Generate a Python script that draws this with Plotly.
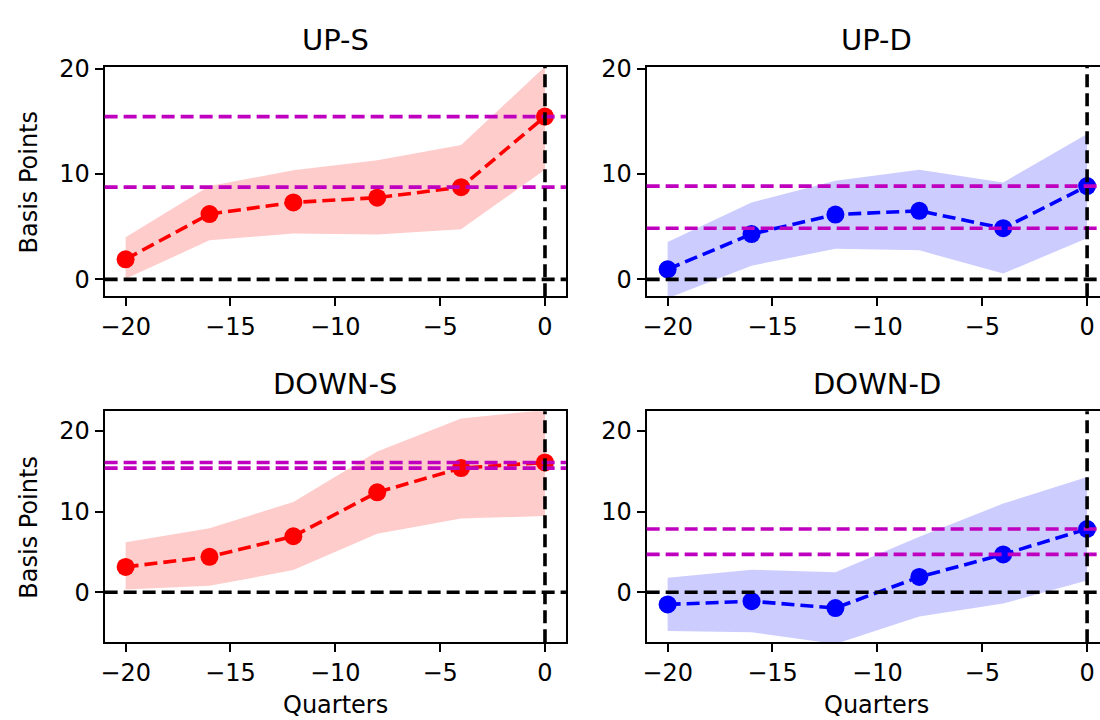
import plotly.graph_objects as go

# Event-time grid (quarters before the event)
quarters = [-20, -16, -12, -8, -4, 0]

# Point estimates and confidence bands (basis points) for each panel
up_s_est = [1.9, 6.2, 7.3, 7.75, 8.75, 15.45]
up_s_hi = [4.0, 8.85, 10.35, 11.3, 12.75, 20.2]
up_s_lo = [0.05, 3.7, 4.35, 4.25, 4.75, 10.4]

up_d_est = [0.95, 4.3, 6.15, 6.5, 4.85, 8.85]
up_d_hi = [3.55, 7.3, 9.35, 10.4, 9.2, 13.8]
up_d_lo = [-1.8, 1.3, 2.9, 2.75, 0.55, 3.9]

down_s_est = [3.15, 4.4, 6.95, 12.4, 15.4, 16.1]
down_s_hi = [6.2, 7.95, 11.2, 17.45, 21.55, 22.6]
down_s_lo = [0.35, 0.8, 2.75, 7.25, 9.15, 9.45]

down_d_est = [-1.5, -1.1, -1.95, 1.9, 4.7, 7.85]
down_d_hi = [1.8, 2.8, 2.5, 6.9, 11.0, 14.3]
down_d_lo = [-4.8, -4.95, -6.4, -3.0, -1.4, 1.45]

panel_titles = ["UP-S", "UP-D", "DOWN-S", "DOWN-D"]
x_ticks = [-20, -15, -10, -5, 0]
y_ticks = [0, 10, 20]

FONT = "DejaVu Sans"
W, H = 1100, 720

panels = [
    dict(title=panel_titles[0], est=up_s_est, hi=up_s_hi, lo=up_s_lo,
         color="#ff0000", fill="rgba(255,0,0,0.2)", ax="", col=0, row=0),
    dict(title=panel_titles[1], est=up_d_est, hi=up_d_hi, lo=up_d_lo,
         color="#0000ff", fill="rgba(0,0,255,0.2)", ax="2", col=1, row=0),
    dict(title=panel_titles[2], est=down_s_est, hi=down_s_hi, lo=down_s_lo,
         color="#ff0000", fill="rgba(255,0,0,0.2)", ax="3", col=0, row=1),
    dict(title=panel_titles[3], est=down_d_est, hi=down_d_hi, lo=down_d_lo,
         color="#0000ff", fill="rgba(0,0,255,0.2)", ax="4", col=1, row=1),
]

# Pixel boxes of the axes
col_px = [(101, 564), (645, 1100)]
row_px = [(56, 289), (406, 641)]
x_ranges = [[-21, 1], [-21, -21 + (1100 - 645) / 21.05]]
y_ranges = [[-1.6, 20.15], [-6.2, 22.45]]

DASH = "13px,6px"
MAGENTA = "#bf00bf"

fig = go.Figure()
layout = dict(
    width=W, height=H, autosize=False,
    margin=dict(l=0, r=0, t=0, b=0),
    paper_bgcolor="white", plot_bgcolor="white",
    showlegend=False,
    font=dict(family=FONT, size=24, color="black"),
)
shapes = []
annotations = []

for p in panels:
    xa = "x" + p["ax"]
    ya = "y" + p["ax"]
    xkey = "xaxis" + p["ax"]
    ykey = "yaxis" + p["ax"]
    c0, c1 = col_px[p["col"]]
    r0, r1 = row_px[p["row"]]

    # confidence band
    fig.add_trace(go.Scatter(
        x=quarters + quarters[::-1], y=p["hi"] + p["lo"][::-1],
        fill="toself", fillcolor=p["fill"], line=dict(width=0),
        mode="lines", hoverinfo="skip", xaxis=xa, yaxis=ya))
    # point estimates
    fig.add_trace(go.Scatter(
        x=quarters, y=p["est"], mode="lines+markers",
        line=dict(color=p["color"], width=3.6, dash=DASH),
        marker=dict(color=p["color"], size=18, line=dict(width=0)),
        xaxis=xa, yaxis=ya))

    layout[xkey] = dict(
        domain=[c0 / W, c1 / W], range=x_ranges[p["col"]], anchor=ya,
        showgrid=False, zeroline=False, showline=True, linecolor="black",
        linewidth=2, mirror=True, ticks="outside", ticklen=8, tickwidth=2,
        tickcolor="black", tickvals=x_ticks,
        ticktext=[("\u2212" + str(-v)) if v < 0 else str(v) for v in x_ticks],
        tickfont=dict(family=FONT, size=24, color="black"))
    layout[ykey] = dict(
        domain=[1 - r1 / H, 1 - r0 / H], range=y_ranges[p["row"]], anchor=xa,
        showgrid=False, zeroline=False, showline=True, linecolor="black",
        linewidth=2, mirror=(p["col"] == 0), ticks="outside", ticklen=8,
        tickwidth=2, tickcolor="black", tickvals=y_ticks,
        ticktext=[str(v) for v in y_ticks],
        tickfont=dict(family=FONT, size=24, color="black"))

    # zero line
    shapes.append(dict(type="line", xref=xa + " domain", yref=ya,
                       x0=0, x1=1, y0=0, y1=0, layer="above",
                       line=dict(color="black", width=3.6, dash=DASH)))
    # levels at the event quarter and four quarters before
    for lvl in (p["est"][-1], p["est"][-2]):
        shapes.append(dict(type="line", xref=xa + " domain", yref=ya,
                           x0=0, x1=1, y0=lvl, y1=lvl, layer="above",
                           line=dict(color=MAGENTA, width=3.6, dash=DASH)))
    # event line
    shapes.append(dict(type="line", xref=xa, yref=ya + " domain",
                       x0=0, x1=0, y0=0, y1=1, layer="above",
                       line=dict(color="black", width=3.6, dash=DASH)))

    # panel title
    annotations.append(dict(
        text=p["title"], xref="paper", yref="paper",
        x=((c0 + (1107 if p["col"] == 1 else c1)) / 2) / W,
        y=1 - (r0 - 28) / H, xanchor="center", yanchor="middle",
        showarrow=False, font=dict(family=FONT, size=29, color="black")))

    if p["col"] == 0:
        annotations.append(dict(
            text="Basis Points", xref="paper", yref="paper",
            x=25 / W, y=1 - ((r0 + r1) / 2) / H, textangle=-90,
            xanchor="center", yanchor="middle", showarrow=False,
            font=dict(family=FONT, size=24, color="black")))
    if p["row"] == 1:
        annotations.append(dict(
            text="Quarters", xref="paper", yref="paper",
            x=((c0 + (1107 if p["col"] == 1 else c1)) / 2) / W,
            y=1 - 705 / H, xanchor="center", yanchor="middle",
            showarrow=False, font=dict(family=FONT, size=24, color="black")))

layout["shapes"] = shapes
layout["annotations"] = annotations
fig.update_layout(**layout)

# remove the default page margin so the figure sits at the window origin
fig.write_html(
    "out.html",
    post_script="document.body.style.margin='0';document.body.style.overflow='hidden';",
)
